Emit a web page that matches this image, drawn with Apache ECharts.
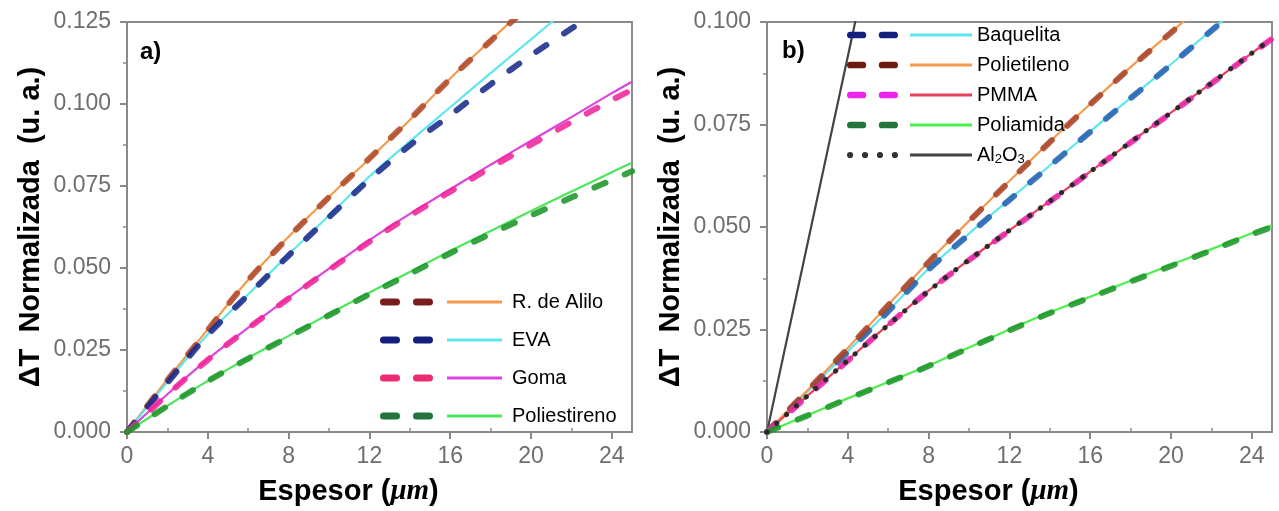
<!DOCTYPE html>
<html><head><meta charset="utf-8">
<script src="https://cdn.jsdelivr.net/npm/echarts@6/dist/echarts.min.js"></script>
<style>html,body{margin:0;padding:0;background:#fff}#c{width:1279px;height:511px}</style>
</head><body><div id="c"></div><script>
// ---------- data ----------
const xs = [0, 2, 4, 6, 8, 10, 12, 14, 16, 18, 20, 22, 24, 25];

// panel a)
const aliloSolid = [0, 0.0160, 0.0313, 0.0464, 0.0595, 0.0717, 0.0833, 0.0951, 0.1078, 0.1194, 0.1310];
const aliloDash  = [0, 0.0158, 0.0311, 0.0463, 0.0594, 0.0716, 0.0834, 0.0953, 0.1077, 0.1192, 0.1305];
const evaSolid   = [0, 0.0152, 0.0298, 0.0420, 0.0541, 0.0660, 0.0779, 0.0886, 0.0990, 0.1094, 0.1197, 0.1300];
const evaDash    = [0, 0.0150, 0.0296, 0.0418, 0.0538, 0.0655, 0.0770, 0.0874, 0.0966, 0.1060, 0.1148, 0.1230, 0.1310];
const gomaSolid  = [0, 0.0115, 0.0222, 0.0318, 0.0410, 0.0498, 0.0585, 0.0665, 0.0740, 0.0815, 0.0888, 0.0960, 0.1033, 0.1068];
const gomaDash   = [0, 0.0114, 0.0220, 0.0316, 0.0407, 0.0494, 0.0580, 0.0659, 0.0733, 0.0806, 0.0876, 0.0945, 0.1012, 0.1043];
const poliestSolid = [0, 0.0080, 0.0156, 0.0226, 0.0293, 0.0360, 0.0425, 0.0488, 0.0552, 0.0613, 0.0674, 0.0733, 0.0792, 0.0821];
const poliestDash  = [0, 0.0079, 0.0155, 0.0224, 0.0290, 0.0356, 0.0420, 0.0482, 0.0545, 0.0604, 0.0660, 0.0715, 0.0768, 0.0795];

// panel b)
const baqSolid    = [0, 0.0098, 0.0196, 0.0295, 0.0398, 0.0484, 0.0567, 0.0650, 0.0733, 0.0815, 0.0897, 0.0980, 0.1062];
const baqDash     = [0, 0.0097, 0.0195, 0.0294, 0.0396, 0.0482, 0.0566, 0.0649, 0.0732, 0.0814, 0.0896, 0.0979, 0.1060];
const polietSolid = [0, 0.0102, 0.0205, 0.0310, 0.0415, 0.0515, 0.0612, 0.0708, 0.0800, 0.0890, 0.0975, 0.1060];
const polietDash  = [0, 0.0101, 0.0204, 0.0309, 0.0414, 0.0514, 0.0611, 0.0707, 0.0799, 0.0889, 0.0974, 0.1058];
const pmmaSolid   = [0, 0.0088, 0.0175, 0.0262, 0.0345, 0.0420, 0.0492, 0.0563, 0.0635, 0.0707, 0.0779, 0.0851, 0.0924, 0.0960];
const pmmaDash    = [0, 0.0087, 0.0174, 0.0261, 0.0344, 0.0419, 0.0491, 0.0562, 0.0634, 0.0706, 0.0778, 0.0850, 0.0923, 0.0959];
const poliamSolid = [0, 0.0041, 0.0082, 0.0122, 0.0162, 0.0206, 0.0250, 0.0292, 0.0330, 0.0369, 0.0408, 0.0446, 0.0485, 0.0504];
const poliamDash  = [0, 0.0040, 0.0081, 0.0121, 0.0161, 0.0205, 0.0248, 0.0290, 0.0328, 0.0367, 0.0405, 0.0443, 0.0482, 0.0500];
const al2o3Dots   = [0, 0.0088, 0.0175, 0.0261, 0.0344, 0.0420, 0.0492, 0.0563, 0.0635, 0.0707, 0.0779, 0.0851, 0.0924, 0.0960];
const al2o3LineX  = [0, 2, 4, 5];
const al2o3Line   = [0, 0.0458, 0.0916, 0.1145];

// ticks / labels
const xMajorTicks = [0, 4, 8, 12, 16, 20, 24];
const xMinorTicks = [2, 6, 10, 14, 18, 22];
const yTickLabelsA = ['0.000', '0.025', '0.050', '0.075', '0.100', '0.125'];
const yTickLabelsB = ['0.000', '0.025', '0.050', '0.075', '0.100'];
const namesA = ['R. de Alilo', 'EVA', 'Goma', 'Poliestireno'];
const namesB = ['Baquelita', 'Polietileno', 'PMMA', 'Poliamida', 'Al2O3'];
const yTitle = 'ΔT  Normalizada  (u. a.)';
const panelLabels = ['a)', 'b)'];

// ---------- build ----------
const FONT = "'Liberation Sans', Arial, sans-serif";
const AX = '#8a8a8a';
const pairs = (x, v) => v.map((y, i) => [x[i], y]);
const DASH_ICON = 'path://M3.5,0H16.5A3.5,3.5,0,0,1,16.5,7H3.5A3.5,3.5,0,0,1,3.5,0Z M36.5,0H49.5A3.5,3.5,0,0,1,49.5,7H36.5A3.5,3.5,0,0,1,36.5,0Z';
const DOT_ICON = 'path://M0,3A3,3,0,1,0,6,3A3,3,0,1,0,0,3Z M14.5,3A3,3,0,1,0,20.5,3A3,3,0,1,0,14.5,3Z M29,3A3,3,0,1,0,35,3A3,3,0,1,0,29,3Z M43.5,3A3,3,0,1,0,49.5,3A3,3,0,1,0,43.5,3Z';
const dashSuffix = ' (curva)';

// [plot dashed colour, legend dashed colour, solid colour]
const colA = {
  'R. de Alilo': ['#B04A2A', '#7B1C1C', '#F39A4E'],
  'EVA': ['#1A2A8C', '#14207E', '#5EE6EE'],
  'Goma': ['#F0259A', '#EB2C74', '#DD44DD'],
  'Poliestireno': ['#1E962A', '#23753A', '#4CE65A']
};
const colB = {
  'Baquelita': ['#2462B0', '#14207E', '#5EE6EE'],
  'Polietileno': ['#A8442A', '#6E1A12', '#F39A4E'],
  'PMMA': ['#E62AA8', '#EE22EE', '#E8405A'],
  'Poliamida': ['#1E962A', '#23753A', '#4CEE4C'],
  'Al2O3': ['#2a2a2a', '#333333', '#444444']
};

function solid(name, g, x, data, color) {
  return { name, type: 'line', xAxisIndex: g * 2, yAxisIndex: g, data: pairs(x, data),
    symbol: 'none', smooth: 0.3, z: 2, silent: true,
    lineStyle: { color, width: 2.2 }, itemStyle: { color } };
}
function dashed(name, g, x, data, color) {
  return { name: name + dashSuffix, type: 'line', xAxisIndex: g * 2, yAxisIndex: g, data: pairs(x, data),
    symbol: 'none', smooth: 0.3, z: 3, silent: true,
    lineStyle: { color, width: 6, type: [12, 21], cap: 'round', opacity: 0.88 }, itemStyle: { color } };
}

const series = [
  solid('R. de Alilo', 0, xs, aliloSolid, colA['R. de Alilo'][2]),
  solid('EVA', 0, xs, evaSolid, colA['EVA'][2]),
  solid('Goma', 0, xs, gomaSolid, colA['Goma'][2]),
  solid('Poliestireno', 0, xs, poliestSolid, colA['Poliestireno'][2]),
  dashed('R. de Alilo', 0, xs, aliloDash, colA['R. de Alilo'][0]),
  dashed('EVA', 0, xs, evaDash, colA['EVA'][0]),
  dashed('Goma', 0, xs, gomaDash, colA['Goma'][0]),
  dashed('Poliestireno', 0, xs, poliestDash, colA['Poliestireno'][0]),

  solid('Baquelita', 1, xs, baqSolid, colB['Baquelita'][2]),
  solid('Polietileno', 1, xs, polietSolid, colB['Polietileno'][2]),
  solid('PMMA', 1, xs, pmmaSolid, colB['PMMA'][2]),
  solid('Poliamida', 1, xs, poliamSolid, colB['Poliamida'][2]),
  solid('Al2O3', 1, al2o3LineX, al2o3Line, colB['Al2O3'][2]),
  dashed('Baquelita', 1, xs, baqDash, colB['Baquelita'][0]),
  dashed('Polietileno', 1, xs, polietDash, colB['Polietileno'][0]),
  dashed('PMMA', 1, xs, pmmaDash, colB['PMMA'][0]),
  dashed('Poliamida', 1, xs, poliamDash, colB['Poliamida'][0]),
  { name: 'Al2O3' + dashSuffix, type: 'line', xAxisIndex: 2, yAxisIndex: 1, data: pairs(xs, al2o3Dots),
    symbol: 'none', smooth: 0.3, z: 4, silent: true,
    lineStyle: { color: colB['Al2O3'][0], width: 5, type: [0.1, 13], cap: 'round' },
    itemStyle: { color: colB['Al2O3'][0] } }
];

const grids = [
  { left: 127, top: 22, width: 505, height: 411 },
  { left: 767, top: 22, width: 505, height: 410 }
];

function xAxes(g) {
  return [
    { gridIndex: g, type: 'value', min: 0, max: 25,
      axisLine: { show: true, onZero: false, lineStyle: { color: AX, width: 2 } },
      axisTick: { show: true, customValues: xMajorTicks, length: 7, lineStyle: { color: AX, width: 2 } },
      axisLabel: { customValues: xMajorTicks, margin: 13, color: '#6e6e6e', fontSize: 23, fontFamily: FONT,
        formatter: v => String(v) },
      splitLine: { show: false },
      name: 'Espesor ({m|μm})', nameLocation: 'middle', nameGap: 45,
      nameTextStyle: { fontSize: 29, fontWeight: 'bold', color: '#000', fontFamily: FONT, padding: [0, 62, 0, 0],
        rich: { m: { fontSize: 29, fontStyle: 'italic', fontWeight: 'bold', fontFamily: "'Liberation Serif', 'DejaVu Serif', serif", color: '#000' } } } },
    { gridIndex: g, type: 'value', min: 0, max: 25,
      axisLine: { show: false },
      axisTick: { show: true, customValues: xMinorTicks, length: 4, lineStyle: { color: AX, width: 1.5 } },
      axisLabel: { show: false }, splitLine: { show: false } }
  ];
}
function yAxis(g, max, labels) {
  return { gridIndex: g, type: 'value', min: 0, max, interval: 0.025,
    axisLine: { show: true, onZero: false, lineStyle: { color: AX, width: 2 } },
    axisTick: { show: true, length: 7, lineStyle: { color: AX, width: 2 } },
    minorTick: { show: true, splitNumber: 2, length: 4, lineStyle: { color: AX, width: 1.5 } },
    splitLine: { show: false },
    axisLabel: { margin: 16, color: '#6e6e6e', fontSize: 23, fontFamily: FONT,
      formatter: (v, i) => labels[Math.round(v / 0.025)] },
    name: yTitle, nameLocation: 'middle', nameGap: 82,
    nameTextStyle: { fontSize: 29, fontWeight: 'bold', color: '#000', fontFamily: FONT } };
}

function legendPair(names, cols, dashLeft, solidLeft, top, dashW, solidW, gap, textPad) {
  const dashData = names.map(n => {
    const it = { name: n + dashSuffix, itemStyle: { color: cols[n][1] } };
    if (n === 'Al2O3') it.icon = DOT_ICON;
    return it;
  });
  const common = { orient: 'vertical', top, padding: 0, itemGap: gap, selectedMode: false,
    textStyle: { fontSize: 20, lineHeight: 20, color: '#000', fontFamily: FONT },
    itemStyle: { borderWidth: 0 } };
  return [
    Object.assign({}, common, { data: dashData, left: dashLeft, itemWidth: dashW, itemHeight: 7, icon: DASH_ICON,
      formatter: () => ' ' }),
    Object.assign({}, common, { data: names, left: solidLeft, itemWidth: solidW, itemHeight: 3, icon: 'rect',
      textStyle: Object.assign({}, common.textStyle, { padding: [0, 0, 0, textPad],
        rich: { sub: { fontSize: 13, color: '#000', fontFamily: FONT, padding: [9, 0, 0, 0] } } }),
      formatter: n => n === 'Al2O3' ? 'Al{sub|2}O{sub|3}' : n })
  ];
}

const option = {
  animation: false,
  backgroundColor: '#fff',
  title: [
    { text: panelLabels[0], left: 140, top: 40, padding: 0, textStyle: { fontSize: 24, fontWeight: 'bold', color: '#000', fontFamily: FONT } },
    { text: panelLabels[1], left: 782, top: 39, padding: 0, textStyle: { fontSize: 24, fontWeight: 'bold', color: '#000', fontFamily: FONT } }
  ],
  grid: grids.map(g => Object.assign({ show: true, borderColor: AX, borderWidth: 2, backgroundColor: 'transparent', containLabel: false }, g)),
  xAxis: [...xAxes(0), ...xAxes(1)],
  yAxis: [yAxis(0, 0.125, yTickLabelsA), yAxis(1, 0.1, yTickLabelsB)],
  legend: [
    ...legendPair(namesA, colA, 380, 447, 292, 53, 55, 18, 5),
    ...legendPair(namesB, colB, 847, 910, 25, 51, 62, 10, 0)
  ],
  series
};

const chart = echarts.init(document.getElementById('c'), null, { renderer: 'canvas' });
chart.setOption(option);
</script></body></html>
